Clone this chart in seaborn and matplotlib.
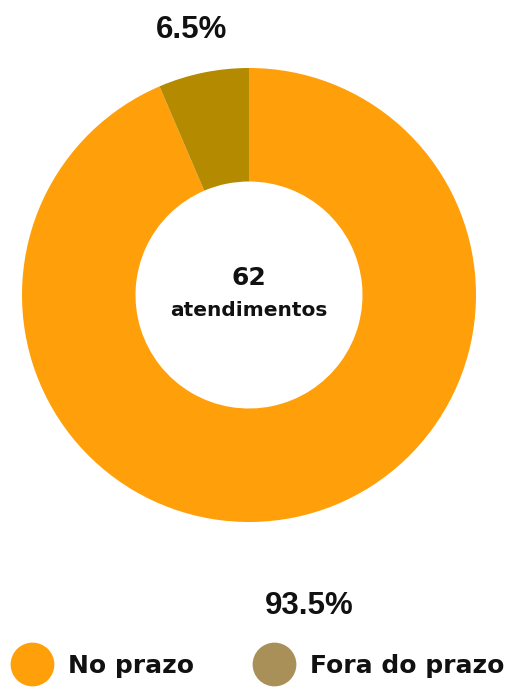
import numpy as np
import matplotlib
matplotlib.use("Agg")
import matplotlib.pyplot as plt
import seaborn as sns
from matplotlib.lines import Line2D

# Data
categories = ["No prazo", "Fora do prazo"]
counts = [58, 4]
pct_labels = ["93.5%", "6.5%"]
total_label = "62"
total_caption = "atendimentos"

slice_colors = ["#FF9F0A", "#B38A00"]
legend_colors = ["#FF9F0A", "#A89058"]
label_dist = [1.40, 1.19]

sns.set_theme(style="white")
plt.rcParams["font.family"] = ["DejaVu Sans"]

fig = plt.figure(figsize=(5.10, 6.87), dpi=100)
ax = fig.add_axes([22 / 510, 1 - 522 / 687, 454 / 510, 454 / 687])

wedges, _ = ax.pie(counts, colors=slice_colors, startangle=90, counterclock=False,
                   radius=1.0, wedgeprops=dict(width=0.5, linewidth=0))
ax.set_xlim(-1, 1)
ax.set_ylim(-1, 1)
ax.set_aspect("equal")
ax.axis("off")

# percentage labels outside the ring
for w, lab, d in zip(wedges, pct_labels, label_dist):
    ang = np.deg2rad((w.theta1 + w.theta2) / 2)
    ax.text(d * np.cos(ang) - 0.015, d * np.sin(ang), lab, ha="center", va="center",
            fontsize=22.5, fontweight="bold", family=["Liberation Sans", "DejaVu Sans"],
            color="#111111", clip_on=False)

# centre text
ax.text(0, 0.075, total_label, ha="center", va="center", fontsize=18,
        fontweight="bold", color="#111111")
ax.text(0, -0.07, total_caption, ha="center", va="center", fontsize=14.5,
        fontweight="bold", color="#111111")

# legend
handles = [Line2D([], [], linestyle="none", marker="o", markersize=31.5,
                  markerfacecolor=c, markeredgewidth=0) for c in legend_colors]
leg = fig.legend(handles, categories, loc="center left", ncol=2,
                 bbox_to_anchor=(10 / 510, 1 - 666 / 687), frameon=False,
                 prop=dict(size=18, weight="bold"), handlelength=1.75,
                 handletextpad=0.55, columnspacing=2.35, borderpad=0, borderaxespad=0)
for t in leg.get_texts():
    t.set_color("#111111")

fig.savefig("out.png", dpi=100, facecolor="white")
